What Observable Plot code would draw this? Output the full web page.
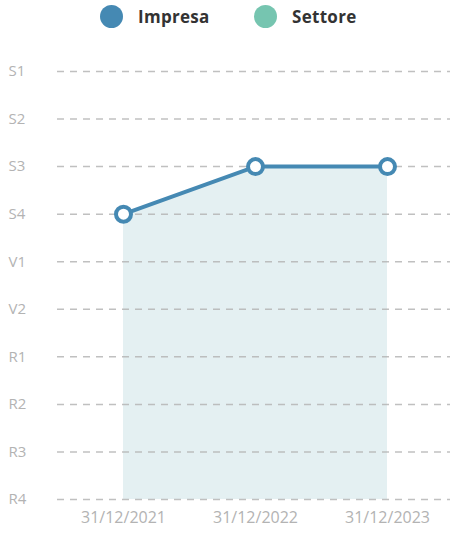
<!DOCTYPE html>
<html><head><meta charset="utf-8">
<script src="https://cdn.jsdelivr.net/npm/d3@7"></script>
<script src="https://cdn.jsdelivr.net/npm/@observablehq/plot@0.6"></script>
<style>
body{margin:0;background:#fff;font-family:"Open Sans",sans-serif;}
#legend{height:36px;position:relative;}
.item{position:absolute;top:5px;display:flex;align-items:center;font-weight:700;font-size:17px;color:#333;letter-spacing:0.3px;}
.dot{width:23px;height:23px;border-radius:50%;margin-right:15px;}
</style></head>
<body>
<div id="legend"></div>
<div id="chart"></div>
<script>
const ratings = ["S1","S2","S3","S4","V1","V2","R1","R2","R3","R4"];
const dates = ["31/12/2021","31/12/2022","31/12/2023"];
const impresa = ["S4","S3","S3"];
const seriesNames = ["Impresa","Settore"];
const seriesColors = ["#4589b3","#76c5b0"];

const data = dates.map((d,i)=>({i, date:d, r: ratings.indexOf(impresa[i])}));

const leg = document.getElementById("legend");
const lx = [100, 254];
seriesNames.forEach((n,k)=>{
  const it = document.createElement("div");
  it.className="item"; it.style.left = lx[k]+"px";
  it.innerHTML = `<span class="dot" style="background:${seriesColors[k]}"></span>${n}`;
  leg.appendChild(it);
});

const chart = Plot.plot({
  width: 450, height: 497,
  marginLeft: 57, marginRight: -3, marginTop: 35, marginBottom: 34,
  style:{fontFamily:"Open Sans, sans-serif", fontSize:"15px", color:"#aaa"},
  x:{domain:[-0.5, dates.length-0.5], axis:null},
  y:{domain:[ratings.length-1, 0], axis:null},
  marks:[
    Plot.areaY(data,{x:"i", y1: ratings.length-1, y2:"r", fill:"#e4f0f2"}),
    Plot.gridY(d3.range(ratings.length),{stroke:"#b5b5b5", strokeOpacity:0.85, strokeDasharray:"7,6", strokeWidth:1.5}),
    Plot.axisY(d3.range(ratings.length),{tickSize:0, tickPadding:0, textAnchor:"start", dx:-49, tickFormat:i=>ratings[i], fill:"#b3b3b3", label:null, fontSize:15}),
    Plot.axisX(d3.range(dates.length),{tickSize:0, tickPadding:12, tickFormat:i=>dates[i], fill:"#b3b3b3", label:null, fontSize:16}),
    Plot.line(data,{x:"i", y:"r", stroke:"#4589b3", strokeWidth:4}),
    Plot.dot(data,{x:"i", y:"r", r:7.5, fill:"#fff", stroke:"#4589b3", strokeWidth:4})
  ]
});
document.getElementById("chart").appendChild(chart);
</script>
</body></html>
